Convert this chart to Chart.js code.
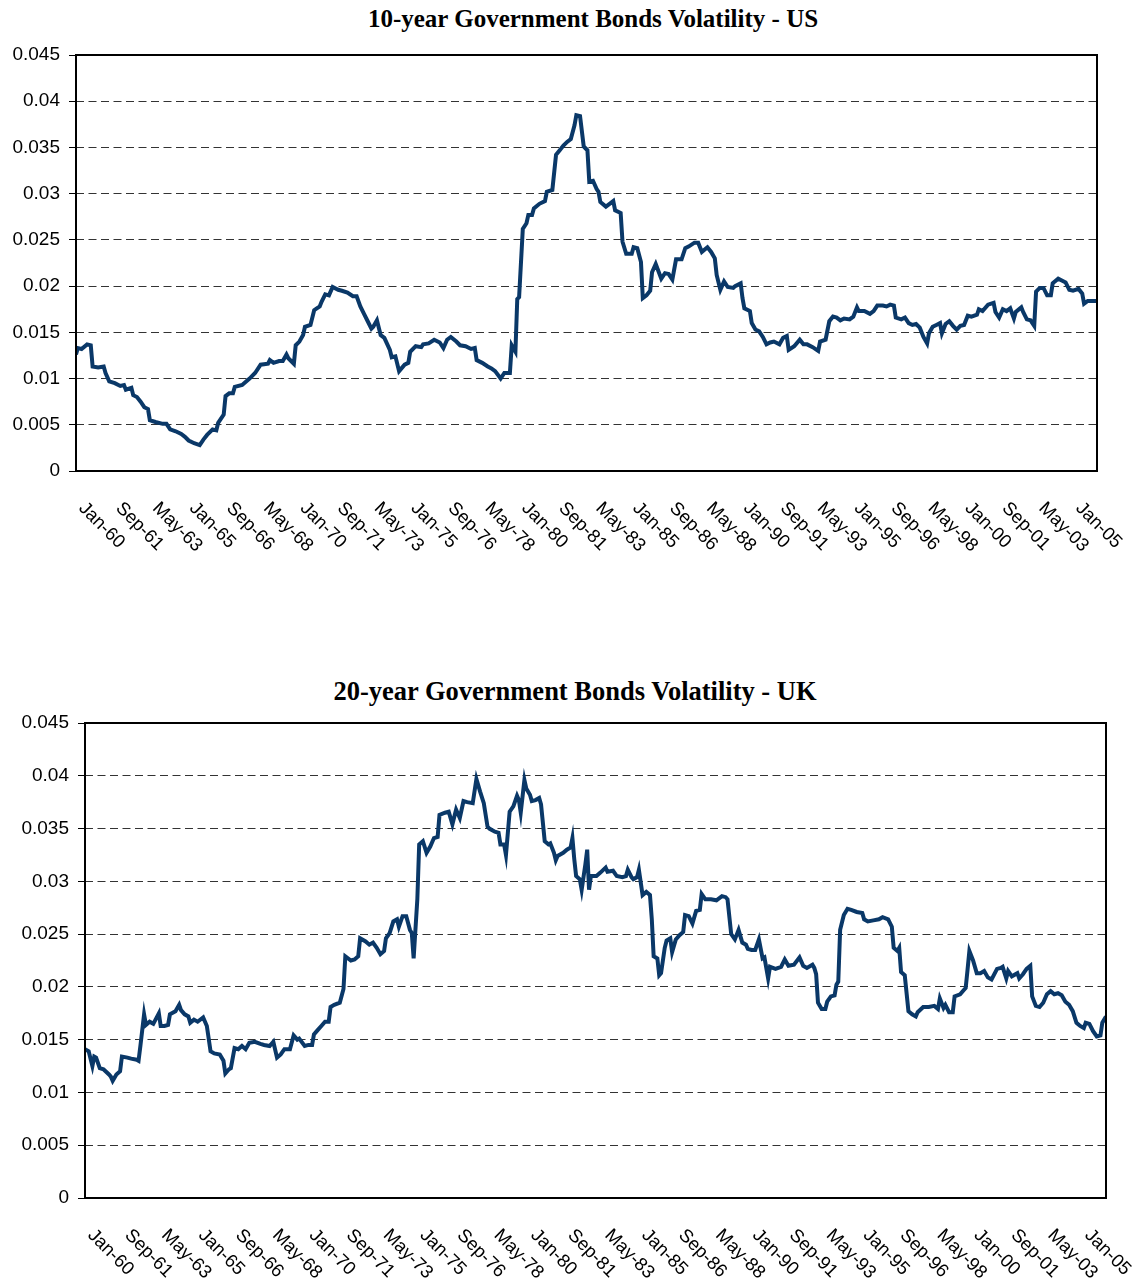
<!DOCTYPE html>
<html>
<head>
<meta charset="utf-8">
<script src="https://cdn.jsdelivr.net/npm/chart.js@4/dist/chart.umd.min.js"></script>
<style>
body{margin:0;background:#fff;width:1132px;height:1279px;position:relative;overflow:hidden}
.ttl{position:absolute;transform:translateX(-50%);white-space:nowrap;font-family:"Liberation Serif","Times New Roman",serif;font-weight:bold;line-height:28px;color:#000}
canvas{position:absolute;left:0}
</style>
</head>
<body>
<div class="ttl" id="t1" style="left:593px;top:5px;font-size:25px">10-year Government Bonds Volatility - US</div>
<canvas id="us" width="1132" height="560" style="top:0"></canvas>
<div class="ttl" id="t2" style="left:575px;top:677px;font-size:26.5px">20-year Government Bonds Volatility - UK</div>
<canvas id="uk" width="1132" height="640" style="top:639px"></canvas>
<script>
// month index 0 = Jan-60, one label every 20 months
const tickLabels = ['Jan-60','Sep-61','May-63','Jan-65','Sep-66','May-68','Jan-70','Sep-71','May-73','Jan-75',
  'Sep-76','May-78','Jan-80','Sep-81','May-83','Jan-85','Sep-86','May-88','Jan-90','Sep-91',
  'May-93','Jan-95','Sep-96','May-98','Jan-00','Sep-01','May-03','Jan-05'];
const labelStep = 20;
const lastMonth = 553;

const usMonths = [0,1,3,6,8,9,12,15,16,18, 21,24,26,27,30,31,33,35,37,39, 40,43,47,49,51,54,57,59,61,64,
  67,69,71,74,76,77,80,81,83,85, 86,90,94,97,100,104,105,107,110,112, 114,115,118,119,121,123,124,127,129,132,
  133,135,137,139,142,144,147,150,152,154, 156,158,160,161,163,165,167,170,171,173, 175,178,180,181,184,187,188,191,194,197,
  199,201,203,206,208,211,214,216,217,220, 223,225,227,230,232,235,236,238,239,240, 242,244,245,247,248,251,254,255,258,260,
  262,264,266,268,270,271,273,275,277,278, 280,282,283,284,287,289,291,292,295,296, 298,301,302,304,306,307,309,311,312,314,
  317,319,321,323,325,328,330,332,335,337, 339,342,344,346,347,349,351,353,356,357, 360,361,362,365,366,368,370,372,374,376,
  378,381,383,385,386,389,392,394,396,399, 402,403,406,408,410,412,414,416,419,421, 423,424,427,430,432,434,437,439,441,443,
  444,447,449,451,453,455,457,459,461,462, 464,466,468,469,471,473,475,477,479,481, 483,485,488,489,491,494,497,498,500,502,
  504,506,508,509,512,513,515,517,519,520, 522,524,526,528,529,532,535,536,538,540, 543,545,546,548,551,553];
const usVol = [.0126,.0133,.0132,.0137,.0136,.0113,.0112,.0113,.0106,.0097, .0095,.0092,.0093,.0088,.0090,.0082,.0080,.0075,.0069,.0067,
  .0055,.0053,.0051,.0051,.0045,.0043,.0040,.0037,.0033,.0030, .0028,.0034,.0039,.0045,.0044,.0052,.0061,.0081,.0084,.0084,
  .0091,.0093,.0100,.0106,.0115,.0116,.0120,.0117,.0119,.0119, .0126,.0122,.0116,.0136,.0140,.0147,.0156,.0158,.0174,.0178,
  .0183,.0191,.0190,.0199,.0196,.0195,.0193,.0189,.0189,.0178, .0170,.0162,.0154,.0156,.0163,.0147,.0144,.0131,.0123,.0124,
  .0108,.0115,.0117,.0129,.0135,.0134,.0137,.0138,.0142,.0139, .0133,.0142,.0145,.0140,.0136,.0135,.0132,.0133,.0120,.0117,
  .0113,.0111,.0108,.0100,.0106,.0106,.0136,.0129,.0186,.0188, .0262,.0268,.0277,.0277,.0284,.0289,.0292,.0302,.0304,.0342,
  .0347,.0352,.0356,.0359,.0374,.0385,.0384,.0351,.0347,.0313, .0314,.0305,.0302,.0291,.0286,.0289,.0292,.0282,.0279,.0248,
  .0235,.0235,.0242,.0241,.0226,.0187,.0190,.0195,.0215,.0224, .0208,.0214,.0213,.0207,.0229,.0229,.0241,.0243,.0247,.0247,
  .0237,.0242,.0237,.0230,.0212,.0196,.0205,.0199,.0198,.0200, .0203,.0187,.0176,.0173,.0160,.0153,.0151,.0145,.0137,.0139,
  .0140,.0137,.0144,.0146,.0131,.0135,.0142,.0137,.0137,.0134, .0130,.0140,.0142,.0162,.0167,.0166,.0163,.0165,.0164,.0167,
  .0177,.0173,.0173,.0170,.0173,.0179,.0179,.0178,.0180,.0179, .0166,.0164,.0166,.0160,.0158,.0159,.0155,.0145,.0138,.0149,
  .0156,.0158,.0160,.0149,.0159,.0162,.0157,.0153,.0157,.0158, .0168,.0167,.0169,.0175,.0173,.0180,.0182,.0172,.0166,.0175,
  .0173,.0176,.0165,.0172,.0177,.0172,.0164,.0163,.0157,.0194, .0198,.0198,.0190,.0190,.0203,.0208,.0205,.0204,.0196,.0195,
  .0197,.0192,.0181,.0184,.0184,.0184];

const ukMonths = [0,2,4,5,6,8,10,13,14,15, 17,19,20,23,25,28,29,30,32,33, 35,37,40,41,43,45,46,49,51,52,
  54,56,57,59,61,64,66,68,70,73, 75,76,78,79,81,83,85,87,89,92, 95,97,100,102,104,106,108,111,113,115,
  116,119,121,123,124,126,128,130,132,133, 135,138,140,141,144,146,148,149,152,154, 156,158,160,162,163,165,167,169,170,172,
  174,176,177,178,180,181,183,185,187,189, 191,192,195,197,199,201,203,205,207,210, 212,214,216,218,219,222,224,225,227,228,
  230,232,234,235,236,238,239,241,242,244, 246,247,249,251,252,254,255,256,259,261, 263,264,265,266,268,269,271,272,273,274,
  277,279,282,283,286,288,291,293,294,296, 297,299,300,302,304,306,307,308,310,311, 312,314,315,317,318,320,322,324,325,327,
  329,331,333,334,336,339,342,345,347,348, 350,352,354,356,358,359,361,363,365,367, 368,370,371,374,377,379,381,384,387,389,
  391,394,395,396,397,399,401,402,404,406, 407,408,409,411,413,415,418,421,422,424, 427,430,432,435,437,438,440,441,442,444,
  446,448,450,451,454,457,460,462,463,465, 466,468,470,471,474,476,477,478,479,481, 483,485,487,489,491,494,496,497,499,500,
  502,505,506,508,510,512,513,515,517,519, 521,523,525,527,529,531,533,535,537,539, 541,542,544,546,548,550,551,553];
const ukVol = [.0141,.0139,.0125,.0134,.0133,.0123,.0122,.0117,.0115,.0111, .0117,.0120,.0134,.0133,.0132,.0131,.0130,.0144,.0174,.0164,
  .0167,.0165,.0175,.0163,.0163,.0164,.0174,.0177,.0183,.0178, .0174,.0172,.0166,.0169,.0167,.0171,.0163,.0139,.0137,.0136,
  .0130,.0118,.0122,.0123,.0142,.0141,.0144,.0141,.0147,.0148, .0146,.0145,.0144,.0148,.0133,.0136,.0141,.0141,.0154,.0150,
  .0151,.0144,.0145,.0145,.0155,.0159,.0163,.0167,.0167,.0181, .0183,.0185,.0198,.0229,.0225,.0226,.0229,.0246,.0243,.0240,
  .0242,.0237,.0231,.0234,.0246,.0251,.0262,.0264,.0257,.0267, .0267,.0254,.0251,.0227,.0283,.0335,.0338,.0327,.0333,.0341,
  .0342,.0363,.0365,.0366,.0354,.0368,.0360,.0376,.0375,.0374, .0397,.0385,.0374,.0352,.0350,.0347,.0346,.0335,.0335,.0325,
  .0366,.0371,.0381,.0377,.0365,.0396,.0388,.0382,.0376,.0377, .0379,.0373,.0338,.0335,.0336,.0327,.0320,.0324,.0327,.0330,
  .0332,.0341,.0321,.0305,.0302,.0292,.0316,.0330,.0292,.0305, .0305,.0308,.0313,.0309,.0310,.0305,.0304,.0305,.0311,.0304,
  .0302,.0304,.0311,.0287,.0290,.0287,.0264,.0229,.0227,.0211, .0213,.0237,.0244,.0246,.0233,.0245,.0249,.0252,.0268,.0267,
  .0260,.0272,.0273,.0288,.0283,.0283,.0282,.0286,.0285,.0283, .0250,.0245,.0254,.0242,.0240,.0236,.0235,.0235,.0245,.0227,
  .0228,.0208,.0219,.0217,.0219,.0226,.0220,.0221,.0228,.0220, .0218,.0221,.0218,.0212,.0185,.0179,.0179,.0186,.0191,.0192,
  .0202,.0205,.0254,.0268,.0274,.0273,.0271,.0270,.0264,.0262, .0263,.0264,.0266,.0264,.0257,.0237,.0234,.0237,.0214,.0211,
  .0177,.0174,.0172,.0176,.0181,.0181,.0182,.0179,.0189,.0180, .0183,.0176,.0176,.0191,.0193,.0197,.0199,.0216,.0234,.0225,
  .0213,.0213,.0215,.0209,.0207,.0217,.0218,.0219,.0208,.0215, .0210,.0213,.0208,.0212,.0217,.0220,.0191,.0182,.0181,.0185,
  .0193,.0196,.0193,.0194,.0192,.0186,.0183,.0177,.0166,.0163, .0161,.0166,.0165,.0158,.0153,.0154,.0166,.0172];

// rotated date labels under the plot (text runs down-right like the original)
const dateLabels = {
  id: 'dateLabels',
  afterDraw(chart) {
    const ctx = chart.ctx;
    const xs = chart.scales.x;
    const bottom = chart.chartArea.bottom;
    ctx.save();
    ctx.font = '18.5px "Liberation Sans", Arial, sans-serif';
    ctx.fillStyle = '#000';
    ctx.textAlign = 'left';
    ctx.textBaseline = 'alphabetic';
    tickLabels.forEach((t, i) => {
      const x = xs.getPixelForValue(i * labelStep);
      ctx.save();
      ctx.translate(x + 2, bottom + 38);
      ctx.rotate(Math.PI / 4);
      ctx.fillText(t, 0, 0);
      ctx.restore();
    });
    ctx.restore();
  }
};

// black frame round the plot area
const plotFrame = {
  id: 'plotFrame',
  afterDatasetsDraw(chart) {
    const a = chart.chartArea;
    const ctx = chart.ctx;
    ctx.save();
    ctx.strokeStyle = '#000';
    ctx.lineWidth = 2;
    ctx.strokeRect(a.left, a.top, a.right - a.left, a.bottom - a.top);
    ctx.restore();
  }
};

function makeChart(id, months, vols, axisW, pad) {
  return new Chart(document.getElementById(id), {
    type: 'line',
    data: {
      datasets: [{
        data: months.map((m, i) => ({x: m, y: vols[i]})),
        borderColor: '#0a3868',
        borderWidth: 4,
        pointRadius: 0,
        tension: 0,
        fill: false
      }]
    },
    options: {
      responsive: false,
      animation: false,
      devicePixelRatio: 1,
      layout: {padding: pad},
      plugins: {legend: {display: false}, tooltip: {enabled: false}},
      scales: {
        x: {
          type: 'linear',
          min: 0,
          max: lastMonth,
          ticks: {display: false},
          grid: {display: false},
          border: {display: false},
          afterFit(s) { s.height = 0; }
        },
        y: {
          min: 0,
          max: 0.045,
          ticks: {
            stepSize: 0.005,
            padding: 9,
            color: '#000',
            font: {family: '"Liberation Sans", Arial, sans-serif', size: 19},
            callback: v => String(Math.round(v * 1000) / 1000)
          },
          grid: {color: '#333', lineWidth: 1, tickLength: 7, tickColor: '#000'},
          border: {display: false, dash: [8, 4.5]},
          afterFit(s) { s.width = axisW; }
        }
      }
    },
    plugins: [plotFrame, dateLabels]
  });
}

makeChart('us', usMonths, usVol, 76, {top: 55, right: 35, bottom: 89, left: 0});
makeChart('uk', ukMonths, ukVol, 85, {top: 84, right: 26, bottom: 81, left: 0});
</script>
</body>
</html>
